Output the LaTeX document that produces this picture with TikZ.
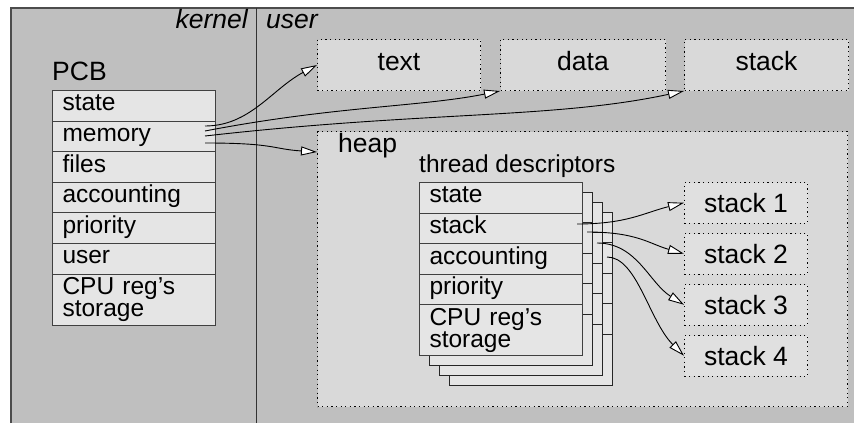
\documentclass[tikz,border=0pt]{standalone}
\usepackage{fontspec}
\setmainfont{Liberation Sans}
\usepackage{tikz}
\usetikzlibrary{arrows.meta}
\newcommand{\labfont}{\fontsize{26.5}{30}\selectfont}
\newcommand{\cellfont}{\fontsize{24.5}{22}\selectfont}
\definecolor{bggray}{gray}{0.75}
\definecolor{boxgray}{gray}{0.85}
\definecolor{stackgray}{gray}{0.88}
\definecolor{cellgray}{gray}{0.9}
\tikzset{every node/.append style={transform shape=false}}
\tikzset{
  seg/.style={draw=black, line width=1pt, dash pattern=on 1.2pt off 3.4pt,
    fill=boxgray, inner sep=0pt, anchor=north west, font=\labfont},
  cell/.style={draw=black!75, line width=1pt, fill=cellgray, anchor=north west,
    minimum height=30.6pt, text width=143pt, inner xsep=10pt, inner ysep=0pt,
    align=left, font=\cellfont, text height=16pt, text depth=6pt},
  cpucell/.style={cell, minimum height=51pt, text height=, text depth=},
  lab/.style={inner sep=0pt, font=\labfont},
  ptr/.style={-{Triangle[length=16pt,width=9pt,fill=white]}, line width=0.9pt},
}

\begin{document}
\begin{tikzpicture}[x=1pt,y=-1pt]
  \useasboundingbox (0,0) rectangle (854,423);
  \fill[bggray] (11,8) rectangle (854,423);
  \draw[black!70, line width=1.5pt] (11,423) -- (11,8) -- (854,8);
  \draw[black!80, line width=1pt] (256,8) -- (256,423);
  \node[lab, anchor=base east, font=\labfont\itshape] (kern) at (248,28) {kernel};
  \node[lab, anchor=base west, font=\labfont\itshape] (usr) at (266,28) {user};

  % process control block
  \node[lab, anchor=base west] (pcblab) at (52,80) {PCB};
  \foreach \f [count=\i] in {state,memory,files,accounting,priority,user}
    \node[cell] (pcb\i) at (52,{90+(\i-1)*30.6}) {\f};
  \node[cpucell] (pcb7) at (52,273.6) {CPU reg's\\storage};

  % user space
  \node[seg, minimum width=163pt, minimum height=51pt, text height=17pt, text depth=6pt] (utext) at (317,39) {text};
  \node[seg, minimum width=165pt, minimum height=51pt, text height=17pt, text depth=6pt] (udata) at (500,39) {data};
  \node[seg, minimum width=164pt, minimum height=51pt, text height=17pt, text depth=6pt] (ustack) at (684,39) {stack};
  \node[seg, minimum width=530pt, minimum height=275pt] (heap) at (317,131) {};
  \node[lab, anchor=base west] (heaplab) at (338,152) {heap};
  \node[lab, anchor=base west, font=\cellfont] (tdlab) at (419,172) {thread descriptors};

  \foreach \k in {3,2,1}
  {
    \begin{scope}[shift={(10*\k,10*\k)}]
      \draw[draw=black!85, line width=1pt, fill=cellgray] (419,182) rectangle (582,355);
      \foreach \r in {212.6,243.2,273.8,304.4}
        \draw[black!85, line width=1pt] (419,\r) -- (582,\r);
    \end{scope}
  }
  \foreach \f [count=\i] in {state,stack,accounting,priority}
    \node[cell] (td\i) at (419,{182+(\i-1)*30.6}) {\f};
  \node[cpucell] (td5) at (419,304.4) {CPU reg's\\storage};

  \foreach \i in {1,...,4}
    \node[seg, fill=stackgray, minimum width=123pt, minimum height=40.5pt] (st\i) at (684,{182+(\i-1)*51}) {stack \i};

  % pointers
  \coordinate (m1) at (205,126);
  \coordinate (m2) at (205,131);
  \coordinate (m3) at (205,136);
  \coordinate (m4) at (205,143);
  \draw[ptr] (m1) .. controls +(45,0) and +(-45,24) .. (utext.west);
  \draw[ptr] (m2) .. controls +(130,-25) and +(-80,16) .. (udata.south west);
  \draw[ptr] (m3) .. controls +(220,-25) and +(-130,28) .. (ustack.south west);
  \draw[ptr] (m4) .. controls +(70,0) and +(-45,-3) .. ([yshift=-21pt]heap.north west);

  \coordinate (s1) at (577,224);
  \coordinate (s2) at (587,232);
  \coordinate (s3) at (597,243);
  \coordinate (s4) at (607,257);
  \draw[ptr] (s1) .. controls +(50,0) and +(-40,10) .. (st1.west);
  \draw[ptr] (s2) .. controls +(50,0) and +(-35,-10) .. (st2.west);
  \draw[ptr] (s3) .. controls +(40,0) and +(-35,-22) .. (st3.west);
  \draw[ptr] (s4) .. controls +(30,0) and +(-35,-35) .. (st4.west);
\end{tikzpicture}
\end{document}
